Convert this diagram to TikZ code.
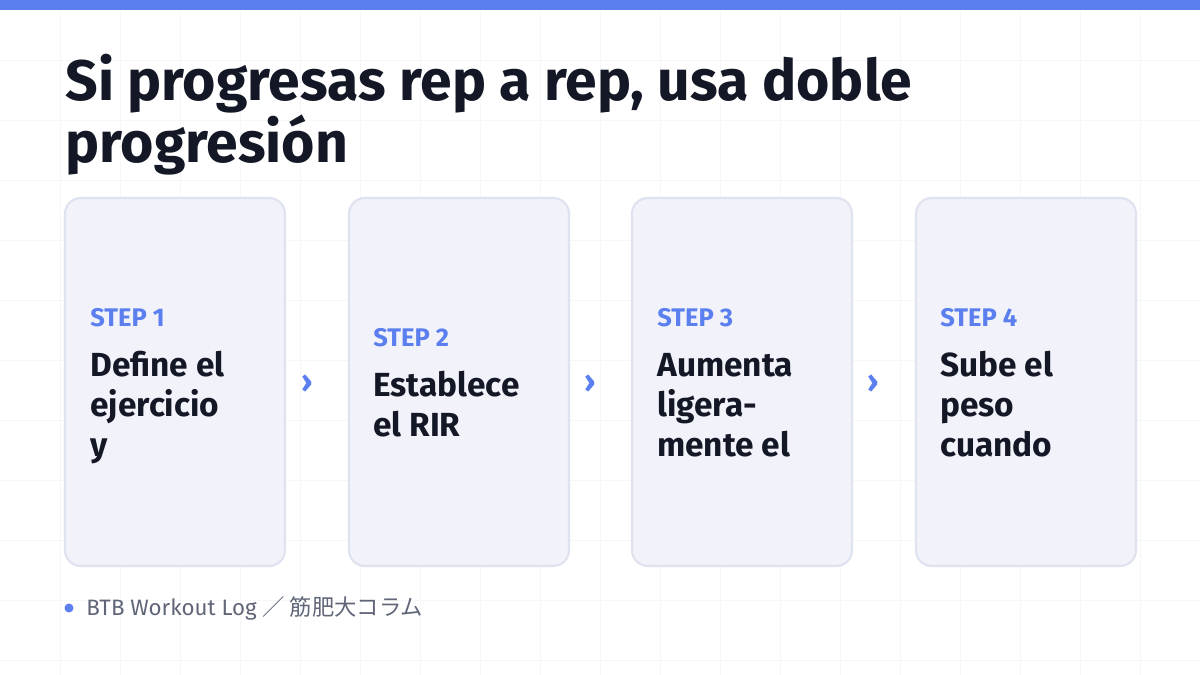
\documentclass[tikz,border=0pt]{standalone}
\usepackage{fontspec}
\setmainfont{Fira Sans}
\newfontfamily\cjk{Noto Sans CJK JP}
\usetikzlibrary{positioning}
\definecolor{accent}{HTML}{5B7FEF}
\definecolor{ink}{HTML}{141826}
\definecolor{cardfill}{HTML}{F1F2FA}
\definecolor{cardline}{HTML}{DFE3F0}
\definecolor{gridc}{HTML}{F6F7F9}
\definecolor{muted}{HTML}{606678}
\tikzset{card/.style={draw=cardline,line width=1.2pt,fill=cardfill,rounded corners=9pt}}
\tikzset{stp/.style={anchor=base west,inner sep=0pt,text=accent,font=\fontsize{14.5}{14.5}\selectfont\bfseries}}
\tikzset{body/.style={anchor=base west,inner sep=0pt,text=ink,align=left,font=\fontsize{19}{22.8}\selectfont\bfseries}}
\tikzset{chev/.style={text=accent,font=\fontsize{18}{18}\selectfont\bfseries}}
\begin{document}
\begin{tikzpicture}[x=0.02cm,y=-0.02cm]
  \useasboundingbox (0,0) rectangle (1200,675);
  \fill[white] (0,0) rectangle (1200,675);
  % faint grid
  \foreach \g in {60,120,...,1140} \draw[gridc,line width=0.5pt] (\g,0) -- (\g,675);
  \foreach \g in {60,120,...,660} \draw[gridc,line width=0.5pt] (0,\g) -- (1200,\g);
  \fill[accent] (0,0) rectangle (1200,10);
  \node[anchor=base west,inner sep=0pt,text=ink,align=left,
        font=\fontsize{32.5}{35.5}\selectfont\bfseries] (title) at (65,163)
        {Si progresas rep a rep, usa doble\\progresión};
  % cards
  \foreach \cx/\nm in {65/c1,349/c2,632/c3,916/c4}
    \draw[card] (\cx,198) rectangle (\cx+220,566) coordinate (\nm);
  \node[stp] (s1) at (90,327) {STEP 1};
  \node[body] (b1) at (90,457) {Define el\\ejercicio\\y};
  \node[stp] (s2) at (373,347) {STEP 2};
  \node[body] (b2) at (373,437) {Establece\\el RIR};
  \node[stp] (s3) at (657,327) {STEP 3};
  \node[body] (b3) at (657,457) {Aumenta\\ligera-\\mente el};
  \node[stp] (s4) at (940,327) {STEP 4};
  \node[body] (b4) at (940,457) {Sube el\\peso\\cuando};
  \node[chev] (a1) at (307,384) {›};
  \node[chev] (a2) at (590,384) {›};
  \node[chev] (a3) at (873,384) {›};
  % footer
  \fill[accent] (69,608) circle (4.5);
  \node[anchor=base west,inner sep=0pt,text=muted,font=\fontsize{12.7}{12.7}\selectfont]
    (foot) at (86,615) {BTB Workout Log {\cjk ／ 筋肥大コラム}};
\end{tikzpicture}
\end{document}
